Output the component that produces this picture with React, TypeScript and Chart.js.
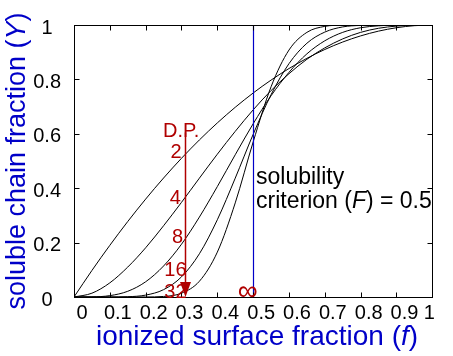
import React, { useEffect, useRef } from 'react';
import { Chart, registerables } from 'chart.js';

Chart.register(...registerables);

// ---- data ----
const fValues = [0, 0.05, 0.1, 0.15, 0.2, 0.25, 0.3, 0.35, 0.4, 0.45, 0.5, 0.55, 0.6, 0.65, 0.7, 0.75, 0.8, 0.85, 0.9, 0.95, 1];
const dp2 = [0, 0.0975, 0.19, 0.2775, 0.36, 0.4375, 0.51, 0.5775, 0.64, 0.6975, 0.75, 0.7975, 0.84, 0.8775, 0.91, 0.9375, 0.96, 0.9775, 0.99, 0.9975, 1];
const dp4 = [0, 0.014, 0.052, 0.11, 0.181, 0.262, 0.348, 0.437, 0.525, 0.609, 0.688, 0.759, 0.821, 0.874, 0.916, 0.949, 0.973, 0.988, 0.996, 0.9995, 1];
const dp8 = [0, 0.0004, 0.005, 0.021, 0.056, 0.114, 0.194, 0.294, 0.406, 0.523, 0.637, 0.74, 0.826, 0.894, 0.942, 0.973, 0.99, 0.997, 0.9996, 1, 1];
const dp16 = [0, 0, 0.0001, 0.001, 0.007, 0.027, 0.074, 0.159, 0.284, 0.437, 0.598, 0.744, 0.858, 0.933, 0.974, 0.993, 0.9985, 0.9998, 1, 1, 1];
const dp32 = [0, 0, 0, 0, 0.0002, 0.002, 0.014, 0.058, 0.165, 0.346, 0.57, 0.773, 0.908, 0.973, 0.995, 0.9994, 1, 1, 1, 1, 1];
const seriesNames = ['D.P. 2', 'D.P. 4', 'D.P. 8', 'D.P. 16', 'D.P. 32'];
const seriesValues = [dp2, dp4, dp8, dp16, dp32];

const xTickValues = [0, 0.1, 0.2, 0.3, 0.4, 0.5, 0.6, 0.7, 0.8, 0.9, 1];
const yTickValues = [0, 0.2, 0.4, 0.6, 0.8, 1];

const criterionF = 0.5; // solubility criterion line
const arrowF = 0.311; // D.P. arrow position
const arrowTopY = 0.605;

const redLabels = [
  { text: 'D.P.', f: 0.299, y: 0.616 },
  { text: '2', f: 0.285, y: 0.539 },
  { text: '4', f: 0.283, y: 0.368 },
  { text: '8', f: 0.289, y: 0.225 },
  { text: '16', f: 0.283, y: 0.102 },
  { text: '32', f: 0.283, y: 0.021 },
];
const infLabel = { text: '\u221E', f: 0.485, y: 0.018 };
const noteLines = [
  { parts: [['solubility', false]], f: 0.508, y: 0.416 },
  { parts: [['criterion (', false], ['F', true], [') = 0.5', false]], f: 0.508, y: 0.327 },
];

const FONT = '"Liberation Sans", Arial, sans-serif';
const BLUE = '#0000C8';
const RED = '#B00000';

function drawRich(ctx: CanvasRenderingContext2D, parts: any[], size: number, x: number, y: number, align: string) {
  const fontOf = (it: boolean) => `${it ? 'italic ' : ''}${size}px ${FONT}`;
  const widths = parts.map((p) => {
    ctx.font = fontOf(p[1]);
    return ctx.measureText(p[0]).width;
  });
  const total = widths.reduce((a, b) => a + b, 0);
  let cx = align === 'center' ? x - total / 2 : x;
  ctx.textAlign = 'left';
  ctx.textBaseline = 'alphabetic';
  parts.forEach((p, i) => {
    ctx.font = fontOf(p[1]);
    ctx.fillText(p[0], cx, y);
    cx += widths[i];
  });
}

const decorPlugin = {
  id: 'decor',
  afterDatasetsDraw(chart: any) {
    const { ctx, chartArea: a } = chart;
    const xs = chart.scales.x;
    const ys = chart.scales.y;
    ctx.save();

    // blue criterion line
    const bx = Math.round(xs.getPixelForValue(criterionF)) + 0.5;
    ctx.strokeStyle = BLUE;
    ctx.lineWidth = 1.2;
    ctx.beginPath();
    ctx.moveTo(bx, ys.getPixelForValue(0));
    ctx.lineTo(bx, ys.getPixelForValue(1));
    ctx.stroke();

    // red D.P. arrow
    const rx = Math.round(xs.getPixelForValue(arrowF)) + 0.5;
    const rTop = ys.getPixelForValue(arrowTopY);
    const rBot = ys.getPixelForValue(0);
    ctx.strokeStyle = RED;
    ctx.fillStyle = RED;
    ctx.lineWidth = 1.5;
    ctx.beginPath();
    ctx.moveTo(rx, rTop);
    ctx.lineTo(rx, rBot - 10);
    ctx.stroke();
    ctx.beginPath();
    ctx.moveTo(rx - 5.5, rBot - 15);
    ctx.lineTo(rx + 5.5, rBot - 15);
    ctx.lineTo(rx, rBot);
    ctx.closePath();
    ctx.fill();

    // frame
    ctx.strokeStyle = '#000';
    ctx.lineWidth = 1;
    const L = Math.round(a.left) + 0.5;
    const R = Math.round(a.right) + 0.5;
    const T = Math.round(a.top) + 0.5;
    const B = Math.round(a.bottom) + 0.5;
    ctx.strokeRect(L, T, R - L, B - T);

    // inward ticks
    ctx.beginPath();
    xTickValues.forEach((v) => {
      const px = Math.round(xs.getPixelForValue(v)) + 0.5;
      ctx.moveTo(px, B);
      ctx.lineTo(px, B - 5);
      ctx.moveTo(px, T);
      ctx.lineTo(px, T + 5);
    });
    yTickValues.forEach((v) => {
      const py = Math.round(ys.getPixelForValue(v)) + 0.5;
      ctx.moveTo(L, py);
      ctx.lineTo(L + 5, py);
      ctx.moveTo(R, py);
      ctx.lineTo(R - 5, py);
    });
    ctx.stroke();

    // red labels
    ctx.fillStyle = RED;
    ctx.textAlign = 'center';
    ctx.textBaseline = 'alphabetic';
    ctx.font = `20px ${FONT}`;
    redLabels.forEach((l) => {
      ctx.fillText(l.text, xs.getPixelForValue(l.f), ys.getPixelForValue(l.y) + 0.36 * 20);
    });
    ctx.font = `28px ${FONT}`;
    ctx.fillText(infLabel.text, xs.getPixelForValue(infLabel.f), ys.getPixelForValue(infLabel.y) + 0.28 * 28);

    // criterion note
    ctx.fillStyle = '#000';
    noteLines.forEach((n) => {
      drawRich(ctx, n.parts, 23, xs.getPixelForValue(n.f), ys.getPixelForValue(n.y), 'left');
    });

    // axis titles
    ctx.fillStyle = BLUE;
    drawRich(ctx, [['ionized surface fraction (', false], ['f', true], [')', false]], 28, 257, 345, 'center');
    ctx.save();
    ctx.translate(25, 161);
    ctx.rotate(-Math.PI / 2);
    drawRich(ctx, [['soluble chain fraction (', false], ['Y', true], [')', false]], 27, 0, 0, 'center');
    ctx.restore();

    ctx.restore();
  },
};

export default function App() {
  const canvasRef = useRef<HTMLCanvasElement | null>(null);

  useEffect(() => {
    if (!canvasRef.current) return;
    const datasets = seriesValues.map((vals, si) => ({
      label: seriesNames[si],
      data: fValues.map((f, i) => ({ x: f, y: vals[i] })),
      borderColor: '#000',
      borderWidth: 1,
      pointRadius: 0,
      fill: false,
      cubicInterpolationMode: 'monotone' as const,
    }));
    const chart = new Chart(canvasRef.current, {
      type: 'line',
      data: { datasets },
      options: {
        animation: false,
        responsive: false,
        devicePixelRatio: 1,
        layout: { padding: { left: 0, top: 17, right: 19, bottom: 0 } },
        plugins: { legend: { display: false }, tooltip: { enabled: false } },
        scales: {
          x: {
            type: 'linear',
            min: 0,
            max: 1,
            afterFit: (s: any) => {
              s.height = 59;
            },
            afterBuildTicks: (s: any) => {
              s.ticks = xTickValues.map((v) => ({ value: v }));
            },
            grid: { display: false, drawTicks: false, tickLength: 0 },
            border: { display: false },
            ticks: {
              autoSkip: false,
              maxRotation: 0,
              minRotation: 0,
              padding: 4,
              labelOffset: 8,
              color: '#000',
              font: { family: FONT, size: 20 },
              callback: (v: any) => {
                const n = Math.round(Number(v) * 10) / 10;
                return n === 1 ? '1    ' : String(n);
              },
            },
          },
          y: {
            type: 'linear',
            min: 0,
            max: 1,
            afterFit: (s: any) => {
              s.width = 74;
            },
            afterBuildTicks: (s: any) => {
              s.ticks = yTickValues.map((v) => ({ value: v }));
            },
            grid: { display: false, drawTicks: false, tickLength: 0 },
            border: { display: false },
            ticks: {
              crossAlign: 'center',
              padding: 13,
              labelOffset: 3,
              color: '#000',
              font: { family: FONT, size: 20 },
              callback: (v: any) => String(Math.round(Number(v) * 10) / 10),
            },
          },
        },
      },
      plugins: [decorPlugin],
    });
    return () => chart.destroy();
  }, []);

  return (
    <div style={{ position: 'fixed', left: 0, top: 0, width: 453, height: 356, background: '#fff' }}>
      <canvas ref={canvasRef} width={453} height={356} style={{ display: 'block' }} />
    </div>
  );
}
